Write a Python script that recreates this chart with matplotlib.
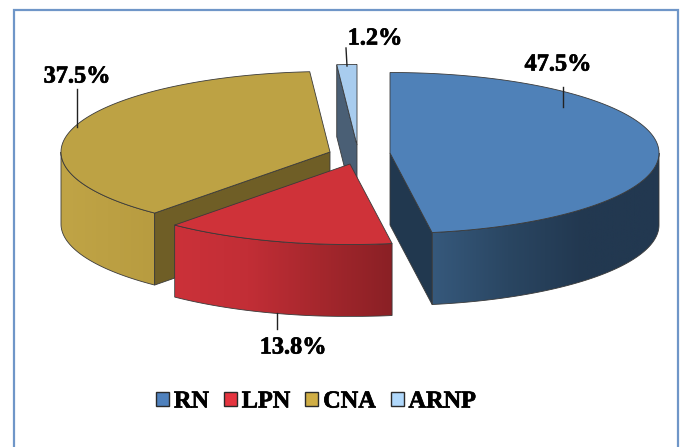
import matplotlib
matplotlib.use('Agg')
import matplotlib.pyplot as plt
import matplotlib.patheffects as pe
import numpy as np
from matplotlib.colors import LinearSegmentedColormap
from matplotlib.patches import Patch, Polygon, Rectangle

plt.rcParams['font.family'] = ['Liberation Serif', 'DejaVu Serif']
plt.rcParams['font.weight'] = 'bold'

categories = ['RN', 'LPN', 'CNA', 'ARNP']
shares = [47.5, 13.8, 37.5, 1.2]
share_labels = ['47.5%', '13.8%', '37.5%', '1.2%']

# layout, in pixels of the 681x447 picture
centers = [(390, 153), (350, 164), (330, 152), (357, 145)]
label_pos = [(558, 65), (293, 348), (77, 77), (375, 39)]
leaders = [((563, 87), (563, 107)), ((277, 313), (277, 329)),
           ((77, 89), (77, 127)), ((346, 48), (347, 66))]
RX, RY, DEPTH = 269, 80.5, 72

top_colors = ['#4f81b8', '#cf3239', '#bda244', '#a8ccee']
cut_colors = ['#21384f', '#8a2025', '#6f5e26', '#4a5f75']
side_colors = [['#36597c', '#2a4662', '#223850', '#223850'],
               ['#cb3139', '#c22e36', '#a5272d', '#8a2025'],
               ['#c0a446', '#b89c40'],
               ['#4a5f75', '#4a5f75']]
legend_colors = ['#4f81bd', '#e5343f', '#d0ae45', '#b0d8fb']
EDGE = '#3a3a3a'
HEAVY = [pe.withStroke(linewidth=0.5, foreground='black')]


def rim(center, theta):
    # theta in degrees, clockwise from the top of the ellipse
    t = np.radians(theta)
    return np.column_stack([center[0] + RX * np.sin(t), center[1] - RY * np.cos(t)])


def draw_slice(ax, center, start, end, top, cut, side):
    # outer wall, only the part of the rim that faces the viewer
    a0, a1 = max(start, 90), min(end, 270)
    if a1 > a0:
        arc = rim(center, np.linspace(a0, a1, 120))
        wall = np.vstack([arc, (arc + [0, DEPTH])[::-1]])
        ax.add_patch(Polygon(wall, closed=True, fc='none', ec=EDGE, lw=0.6, zorder=3))
        cmap = LinearSegmentedColormap.from_list('side', side)
        grad = np.linspace(0, 1, 256).reshape(1, -1)
        img = ax.imshow(grad, cmap=cmap, aspect='auto', zorder=2,
                        extent=[wall[:, 0].min(), wall[:, 0].max(),
                                wall[:, 1].max(), wall[:, 1].min()])
        img.set_clip_path(Polygon(wall, closed=True, transform=ax.transData))

    # flat cut faces
    for angle, sign in ((start, -1), (end, 1)):
        if sign * np.sin(np.radians(angle)) > 1e-6:
            p = rim(center, [angle])[0]
            face = [p, center, (center[0], center[1] + DEPTH), (p[0], p[1] + DEPTH)]
            ax.add_patch(Polygon(face, closed=True, fc=cut, ec=EDGE, lw=0.6, zorder=3))

    # top face
    arc = rim(center, np.linspace(start, end, 200))
    ax.add_patch(Polygon(np.vstack([[center], arc]), closed=True, fc=top,
                         ec=EDGE, lw=0.6, zorder=4))


def create_figure():
    fig = plt.figure(figsize=(6.81, 4.47), dpi=100, facecolor='white')
    ax = fig.add_axes([0, 0, 1, 1])
    ax.axis('off')

    ax.add_patch(Rectangle((13.5, 9.5), 664.5, 450, fc='white', ec='#6f96c8',
                           lw=1.6, zorder=0))

    edges = 3.6 * np.cumsum([0] + shares)
    # back to front so the nearer slices cover the farther ones
    order = [3, 2, 1, 0]
    for n, i in enumerate(order):
        sub = ax.inset_axes([0, 0, 1, 1], zorder=n + 1)
        sub.axis('off')
        sub.patch.set_alpha(0)
        draw_slice(sub, centers[i], edges[i], edges[i + 1], top_colors[i],
                   cut_colors[i], side_colors[i])
        sub.set_xlim(0, 681)
        sub.set_ylim(447, 0)

    for i, text in enumerate(share_labels):
        ax.text(label_pos[i][0], label_pos[i][1], text, fontsize=17.5,
                ha='center', va='center', color='black', zorder=10,
                path_effects=HEAVY)
        (x0, y0), (x1, y1) = leaders[i]
        ax.plot([x0, x1], [y0, y1], color='#222222', lw=1.0, zorder=10)

    handles = [Patch(fc=c, ec='#2a2a2a', lw=1.0, label=name)
               for c, name in zip(legend_colors, categories)]
    ax.set_xlim(0, 681)
    ax.set_ylim(447, 0)
    leg = ax.legend(handles=handles, loc='center', bbox_to_anchor=(316, 402),
                    bbox_transform=ax.transData, ncols=4, frameon=False,
                    fontsize=17.5, handlelength=0.53, handleheight=0.53,
                    handletextpad=0.2, columnspacing=0.62, borderpad=0,
                    borderaxespad=0)
    leg.set_zorder(10)
    for t in leg.get_texts():
        t.set_path_effects(HEAVY)

    fig.savefig('out.png', dpi=100, facecolor='white')


if __name__ == "__main__":
    create_figure()
